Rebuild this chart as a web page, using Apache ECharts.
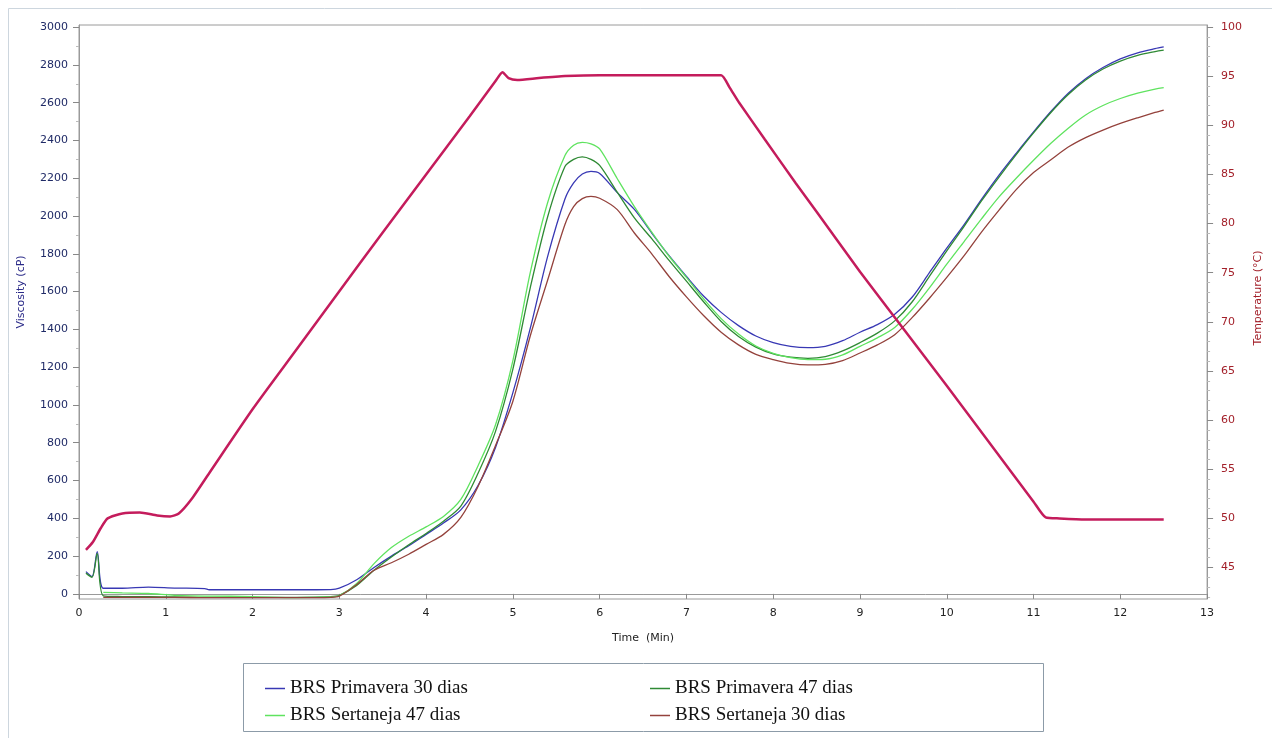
<!DOCTYPE html>
<html>
<head>
<meta charset="utf-8">
<script src="https://cdn.jsdelivr.net/npm/echarts/dist/echarts.min.js"></script>
<style>
  html, body { margin: 0; padding: 0; background: #fff; }
  #chart { width: 1272px; height: 738px; }
</style>
</head>
<body>
<div id="chart"></div>
<script>
// time axis shared by the four viscosity curves (min)
const timeMin = [0.08, 0.15, 0.21, 0.28, 0.5, 0.8, 1.1, 1.45, 1.5, 2.0, 2.5, 2.9, 3.0,
  3.2, 3.4, 3.6, 3.8, 4.0, 4.2, 4.4, 4.6, 4.8, 5.0, 5.2, 5.4, 5.6, 5.7, 5.8, 5.9, 6.0, 6.2, 6.4, 6.6,
  6.8, 7.0, 7.2, 7.4, 7.6, 7.8, 8.0, 8.2, 8.4, 8.6, 8.8, 9.0, 9.2, 9.4, 9.6, 9.8, 10.0,
  10.2, 10.4, 10.6, 10.8, 11.0, 11.2, 11.4, 11.6, 11.8, 12.0, 12.2, 12.4, 12.5];

// viscosity (cP)
const primavera30 = [118, 92, 224, 30, 30, 36, 31, 28, 22, 22, 22, 23, 30,
  75, 140, 200, 255, 315, 375, 445, 575, 775, 1065, 1405, 1785, 2090, 2175, 2222, 2236, 2225, 2125, 2035, 1910,
  1790, 1680, 1575, 1490, 1420, 1365, 1330, 1310, 1303, 1310, 1340, 1385, 1425, 1480, 1570, 1700, 1830,
  1955, 2088, 2215, 2332, 2445, 2553, 2650, 2727, 2786, 2832, 2864, 2886, 2895];
const primavera47 = [110, 88, 215, -10, -14, -15, -16, -18, -18, -18, -18, -15, -8,
  45, 125, 195, 260, 320, 385, 465, 640, 860, 1190, 1620, 1995, 2262, 2300, 2313, 2300, 2268, 2128, 1990, 1880,
  1765, 1655, 1545, 1442, 1362, 1306, 1270, 1253, 1247, 1256, 1286, 1330, 1380, 1445, 1545, 1680, 1815,
  1945, 2080, 2205, 2325, 2440, 2548, 2643, 2720, 2778, 2820, 2850, 2870, 2878];
const sertaneja47 = [null, null, null, 8, 5, 2, -8, -12, -12, -14, -20, -16, -10,
  55, 160, 245, 305, 355, 410, 500, 680, 895, 1235, 1700, 2070, 2320, 2375, 2390, 2382, 2355, 2200, 2050, 1915,
  1787, 1675, 1560, 1457, 1375, 1312, 1273, 1250, 1240, 1242, 1265, 1310, 1355, 1410, 1505, 1620, 1745,
  1865, 1985, 2100, 2200, 2295, 2385, 2465, 2535, 2585, 2622, 2650, 2672, 2680];
const sertaneja30 = [null, null, null, -18, -18, -18, -18, -20, -20, -20, -20, -18, -12,
  50, 125, 165, 210, 262, 315, 405, 570, 785, 1020, 1365, 1660, 1955, 2050, 2092, 2104, 2094, 2035, 1910, 1800,
  1680, 1572, 1472, 1385, 1318, 1268, 1240, 1220, 1212, 1215, 1235, 1275, 1318, 1372, 1462, 1565, 1675,
  1790, 1915, 2030, 2140, 2230, 2298, 2365, 2415, 2455, 2490, 2520, 2548, 2561];

// temperature profile (°C)
const tempTime = [0.08, 0.16, 0.25, 0.33, 0.5, 0.7, 0.9, 1.05, 1.15, 1.3, 1.5, 2.0, 2.5, 3.0,
  3.5, 4.0, 4.5, 4.8, 4.88, 4.95, 5.05, 5.3, 5.6, 6.0, 6.5, 7.0, 7.4, 7.5, 7.6, 7.9, 8.26, 8.5,
  9.0, 9.5, 10.0, 10.5, 11.0, 11.14, 11.3, 11.6, 12.0, 12.5];
const tempC = [46.8, 47.6, 49.0, 50.0, 50.5, 50.6, 50.3, 50.2, 50.5, 52.0, 54.6, 61.1, 67.1, 73.1,
  79.1, 85.0, 90.9, 94.5, 95.4, 94.8, 94.6, 94.8, 95.0, 95.1, 95.1, 95.1, 95.1, 93.8, 92.4, 88.6, 84.1, 81.2,
  75.1, 69.3, 63.5, 57.6, 51.7, 50.1, 50.0, 49.9, 49.9, 49.9];

// tick labels
const viscTicks = [0, 200, 400, 600, 800, 1000, 1200, 1400, 1600, 1800, 2000, 2200, 2400, 2600, 2800, 3000];
const viscMinor = [100, 300, 500, 700, 900, 1100, 1300, 1500, 1700, 1900, 2100, 2300, 2500, 2700, 2900];
const tempTicks = [45, 50, 55, 60, 65, 70, 75, 80, 85, 90, 95, 100];
const tempMinor = [];
for (let t = 42; t < 100; t++) { if (t % 5 !== 0) tempMinor.push(t); }

const names = ['BRS Primavera 30 dias', 'BRS Primavera 47 dias', 'BRS Sertaneja 47 dias', 'BRS Sertaneja 30 dias'];
const colors = ['#3838b4', '#2f8a34', '#5fe35f', '#94423c'];
const values = [primavera30, primavera47, sertaneja47, sertaneja30];

const zip = (xs, ys) => xs.map((x, i) => [x, ys[i]]).filter(p => p[1] !== null);
const plain = v => String(v);

const chart = echarts.init(document.getElementById('chart'));

const series = values.map((v, i) => ({
  name: names[i],
  type: 'line',
  yAxisIndex: 0,
  data: zip(timeMin, v),
  showSymbol: false,
  smooth: 0.3,
  lineStyle: { width: 1.3, color: colors[i] },
  itemStyle: { color: colors[i] },
  z: 3
}));
series.push({
  name: 'Temperature',
  type: 'line',
  yAxisIndex: 1,
  data: zip(tempTime, tempC),
  showSymbol: false,
  smooth: 0.2,
  lineStyle: { width: 2.5, color: '#c41c5c' },
  itemStyle: { color: '#c41c5c' },
  z: 4
});

const legendBase = {
  orient: 'horizontal',
  icon: 'rect',
  itemWidth: 20,
  itemHeight: 1.5,
  selectedMode: false,
  textStyle: { fontFamily: 'Liberation Serif', fontSize: 19, color: '#111' }
};

const option = {
  animation: false,
  backgroundColor: '#fff',
  grid: { left: 79, right: 59, top: 25, bottom: 139, show: true, borderColor: '#9a9a9a', borderWidth: 1 },
  xAxis: {
    type: 'value', min: 0, max: 13, interval: 1,
    name: 'Time  (Min)', nameLocation: 'middle', nameGap: 34,
    nameTextStyle: { fontFamily: 'DejaVu Sans', fontSize: 11, color: '#222' },
    axisLine: { lineStyle: { color: '#9a9a9a' } },
    axisTick: { length: 5, lineStyle: { color: '#888' } },
    axisLabel: { fontFamily: 'DejaVu Sans', fontSize: 11, color: '#222', margin: 9, formatter: plain },
    splitLine: { show: false }
  },
  yAxis: [
    {
      type: 'value', min: -27, max: 3011, position: 'left', offset: 0,
      name: 'Viscosity (cP)', nameLocation: 'middle', nameRotate: 90, nameGap: 52,
      nameTextStyle: { fontFamily: 'DejaVu Sans', fontSize: 11, color: '#2a2a88', padding: [0, 0, 0, 40] },
      axisLine: { show: true, lineStyle: { color: '#9a9a9a' } },
      axisTick: { show: true, length: 6, customValues: viscTicks, lineStyle: { color: '#888' } },
      axisLabel: { customValues: viscTicks, fontFamily: 'DejaVu Sans', fontSize: 11, color: '#1f2a66', margin: 11, formatter: plain },
      splitLine: { show: false }
    },
    {
      type: 'value', min: 41.8, max: 100.2, position: 'right', offset: 0,
      name: 'Temperature (°C)', nameLocation: 'middle', nameRotate: 90, nameGap: 42,
      nameTextStyle: { fontFamily: 'DejaVu Sans', fontSize: 11, color: '#a3202a', padding: [0, 0, 0, 28] },
      axisLine: { show: true, lineStyle: { color: '#9a9a9a' } },
      axisTick: { show: true, length: 6, customValues: tempTicks, lineStyle: { color: '#888' } },
      axisLabel: { customValues: tempTicks, fontFamily: 'DejaVu Sans', fontSize: 11, color: '#a3202a', margin: 14, formatter: plain },
      splitLine: { show: false }
    },
    {
      type: 'value', min: -27, max: 3011, position: 'left', offset: 0,
      axisLine: { show: false },
      axisTick: { show: true, length: 3, customValues: viscMinor, lineStyle: { color: '#bbb' } },
      axisLabel: { show: false },
      splitLine: { show: false }
    },
    {
      type: 'value', min: 41.8, max: 100.2, position: 'right', offset: 0,
      axisLine: { show: false },
      axisTick: { show: true, length: 3, customValues: tempMinor, lineStyle: { color: '#bbb' } },
      axisLabel: { show: false },
      splitLine: { show: false }
    }
  ],
  legend: [
    Object.assign({ data: [names[0]], left: 260, top: 674 }, legendBase),
    Object.assign({ data: [names[1]], left: 645, top: 674 }, legendBase),
    Object.assign({ data: [names[2]], left: 260, top: 701 }, legendBase),
    Object.assign({ data: [names[3]], left: 645, top: 701 }, legendBase)
  ],
  graphic: [
    { type: 'rect', shape: { x: 8.5, y: 8.5, width: 1270, height: 740 }, style: { fill: 'none', stroke: '#cdd6de', lineWidth: 1 }, silent: true },
    { type: 'rect', shape: { x: 243.5, y: 663.5, width: 800, height: 68 }, style: { fill: 'none', stroke: '#8c9ba8', lineWidth: 1 }, silent: true }
  ],
  series: series
};

chart.setOption(option);
</script>
</body>
</html>
